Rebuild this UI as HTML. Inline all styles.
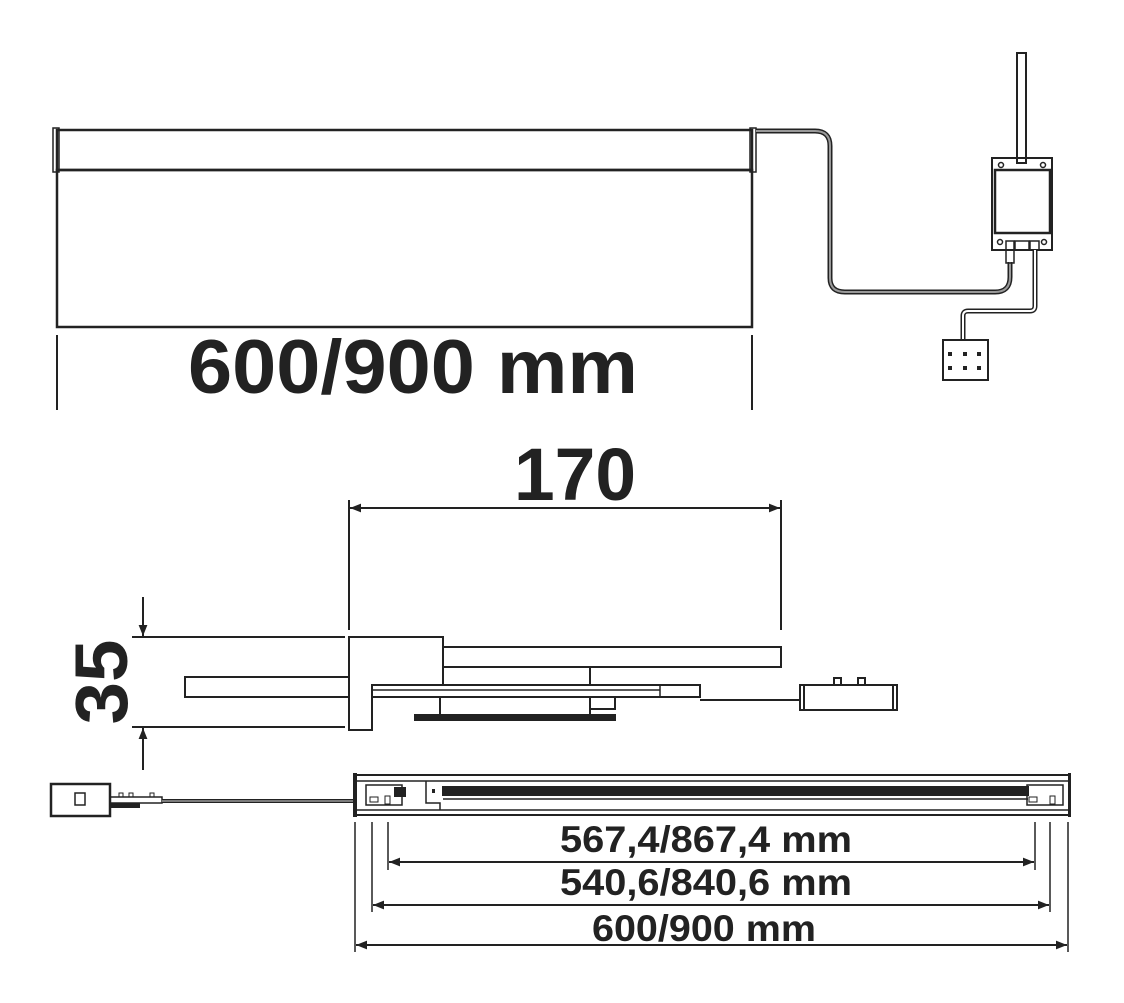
<!DOCTYPE html>
<html><head><meta charset="utf-8"><style>html,body{margin:0;padding:0;background:#fff}svg{display:block}</style></head>
<body>
<svg width="1124" height="1003" viewBox="0 0 1124 1003" xmlns="http://www.w3.org/2000/svg" font-family="Liberation Sans, sans-serif" font-weight="bold" fill="none" stroke="#222" stroke-width="2">
<defs>
<marker id="a" viewBox="0 0 10 10" refX="10" refY="5" markerWidth="20" markerHeight="11" markerUnits="userSpaceOnUse" orient="auto-start-reverse"><path d="M0,1 L10,5 L0,9 Z" fill="#222" stroke="none"/></marker>
</defs>
<!-- Top panel -->
<rect x="57" y="130" width="695" height="40" stroke-width="2.5"/>
<rect x="53" y="128" width="6" height="44" stroke-width="1.5"/>
<rect x="750" y="128" width="6" height="44" stroke-width="1.5"/>
<rect x="57" y="170" width="695" height="157" stroke-width="2.5"/>
<line x1="57" y1="335" x2="57" y2="410"/>
<line x1="752" y1="335" x2="752" y2="410"/>
<text x="413" y="393" font-size="76" fill="#222" stroke="none" text-anchor="middle" textLength="450" lengthAdjust="spacingAndGlyphs">600/900 mm</text>
<!-- cable -->
<path d="M756,131 H815 Q830,131 830,146 V278 Q830,292 845,292 H995 Q1010,292 1010,277 V262" stroke-width="5"/>
<path d="M756,131 H815 Q830,131 830,146 V278 Q830,292 845,292 H995 Q1010,292 1010,277 V262" stroke="#999" stroke-width="2"/>
<!-- power box -->
<rect x="1017" y="53" width="9" height="110"/>
<rect x="992" y="158" width="60" height="92"/>
<rect x="995" y="170" width="55" height="63" stroke-width="2.5"/>
<circle cx="1001" cy="165" r="2.5" stroke-width="1.5"/><circle cx="1043" cy="165" r="2.5" stroke-width="1.5"/>
<circle cx="1000" cy="242" r="2.5" stroke-width="1.5"/><circle cx="1044" cy="242" r="2.5" stroke-width="1.5"/>
<rect x="1006" y="241" width="8" height="22" stroke-width="1.5"/>
<rect x="1015" y="241" width="14" height="9" stroke-width="1.5"/>
<rect x="1030" y="241" width="9" height="9" stroke-width="1.5"/>
<path d="M1035,250 V306 Q1035,311 1030,311 H968 Q963,311 963,316 V340" stroke-width="5"/>
<path d="M1035,250 V306 Q1035,311 1030,311 H968 Q963,311 963,316 V340" stroke="#fff" stroke-width="2"/>
<rect x="943" y="340" width="45" height="40"/>
<g fill="#222" stroke="none">
<rect x="948" y="352" width="4" height="4"/><rect x="963" y="352" width="4" height="4"/><rect x="977" y="352" width="4" height="4"/>
<rect x="948" y="366" width="4" height="4"/><rect x="963" y="366" width="4" height="4"/><rect x="977" y="366" width="4" height="4"/>
</g>
<!-- 170 dim -->
<text x="575" y="500" font-size="74" fill="#222" stroke="none" text-anchor="middle" textLength="122" lengthAdjust="spacingAndGlyphs">170</text>
<line x1="349" y1="500" x2="349" y2="630"/>
<line x1="781" y1="500" x2="781" y2="630"/>
<line x1="350" y1="508" x2="780" y2="508" marker-start="url(#a)" marker-end="url(#a)"/>
<!-- 35 dim -->
<text transform="translate(127,682) rotate(-90)" font-size="74" fill="#222" stroke="none" text-anchor="middle" textLength="85" lengthAdjust="spacingAndGlyphs">35</text>
<line x1="143" y1="597" x2="143" y2="636" marker-end="url(#a)"/>
<line x1="143" y1="770" x2="143" y2="728" marker-end="url(#a)"/>
<line x1="132" y1="637" x2="345" y2="637"/>
<line x1="132" y1="727" x2="345" y2="727"/>
<!-- side view -->
<rect x="185" y="677" width="164" height="20"/>
<path d="M349,637 H443 V685 H372 V730 H349 Z"/>
<rect x="443" y="647" width="338" height="20"/>
<line x1="590" y1="667" x2="590" y2="685"/>
<rect x="372" y="685" width="328" height="12"/>
<line x1="372" y1="690" x2="660" y2="690" stroke-width="1.5"/>
<line x1="660" y1="685" x2="660" y2="697" stroke-width="1.5"/>
<rect x="440" y="697" width="150" height="20"/>
<rect x="590" y="697" width="25" height="12"/>
<rect x="415" y="715" width="200" height="5" fill="#222"/>
<line x1="700" y1="700" x2="800" y2="700"/>
<rect x="800" y="685" width="97" height="25"/>
<line x1="804" y1="685" x2="804" y2="710"/><line x1="893" y1="685" x2="893" y2="710"/>
<rect x="834" y="678" width="7" height="7"/><rect x="858" y="678" width="7" height="7"/>
<!-- bottom bar -->
<rect x="355" y="775" width="715" height="40"/>
<line x1="355" y1="781" x2="1070" y2="781" stroke-width="1.5"/>
<line x1="355" y1="810" x2="1070" y2="810" stroke-width="1.5"/>
<rect x="443" y="787" width="585" height="8" fill="#222"/>
<line x1="443" y1="799" x2="1028" y2="799" stroke-width="1.5"/>
<path d="M426,781 V803 H440 V810" stroke-width="1.5"/>
<rect x="432" y="789" width="3" height="4" fill="#222" stroke="none"/>
<rect x="366" y="785" width="36" height="20" stroke-width="1.5"/>
<rect x="394" y="787" width="12" height="10" fill="#222" stroke="none"/>
<rect x="370" y="797" width="8" height="5" stroke-width="1"/><rect x="385" y="796" width="5" height="8" stroke-width="1"/>
<rect x="1027" y="785" width="36" height="20" stroke-width="1.5"/>
<rect x="1029" y="797" width="8" height="5" stroke-width="1"/><rect x="1050" y="796" width="5" height="8" stroke-width="1"/>
<rect x="353" y="773" width="4" height="44" fill="#222" stroke="none"/>
<rect x="1068" y="773" width="3" height="44" fill="#222" stroke="none"/>
<!-- left connector -->
<rect x="51" y="784" width="59" height="32" stroke-width="2.5"/>
<rect x="75" y="793" width="10" height="12" stroke-width="1.5"/>
<rect x="110" y="797" width="52" height="6" stroke-width="1.5"/>
<rect x="110" y="803" width="30" height="5" fill="#222" stroke="none"/>
<rect x="119" y="793" width="4" height="4" stroke-width="1"/><rect x="129" y="793" width="4" height="4" stroke-width="1"/><rect x="150" y="793" width="4" height="4" stroke-width="1"/>
<path d="M162,801 H353" stroke-width="4"/><path d="M162,801 H353" stroke="#999" stroke-width="1.5"/>
<!-- dims -->
<g stroke-width="1.5">
<line x1="355" y1="822" x2="355" y2="952"/><line x1="372" y1="822" x2="372" y2="912"/><line x1="388" y1="822" x2="388" y2="870"/>
<line x1="1035" y1="822" x2="1035" y2="870"/><line x1="1050" y1="822" x2="1050" y2="912"/><line x1="1068" y1="822" x2="1068" y2="952"/>
</g>
<line x1="389" y1="862" x2="1034" y2="862" marker-start="url(#a)" marker-end="url(#a)"/>
<line x1="373" y1="905" x2="1049" y2="905" marker-start="url(#a)" marker-end="url(#a)"/>
<line x1="356" y1="945" x2="1067" y2="945" marker-start="url(#a)" marker-end="url(#a)"/>
<g fill="#222" stroke="none" font-size="37" text-anchor="middle">
<text x="706" y="852" textLength="292" lengthAdjust="spacingAndGlyphs">567,4/867,4 mm</text>
<text x="706" y="895" textLength="292" lengthAdjust="spacingAndGlyphs">540,6/840,6 mm</text>
<text x="704" y="941" textLength="224" lengthAdjust="spacingAndGlyphs">600/900 mm</text>
</g>
</svg>
</body></html>
